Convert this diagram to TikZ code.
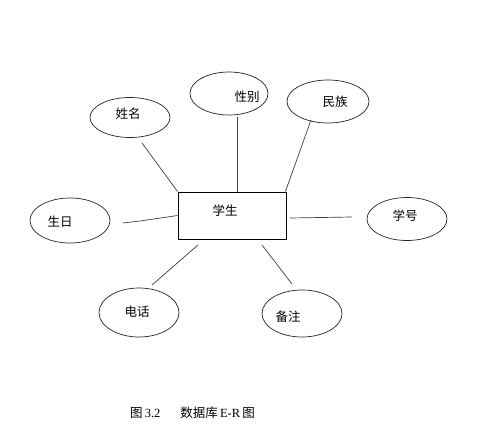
\documentclass[tikz,border=0pt]{standalone}
\usepackage{fontspec}
\setmainfont{Liberation Serif}
\newfontfamily\cjk{Noto Sans CJK SC}
\usetikzlibrary{shapes.geometric}
\begin{document}
\begin{tikzpicture}[x=1pt,y=-1pt,
  attr/.style={draw=black!85, ellipse, line width=0.7pt, inner sep=0pt, minimum width=80pt, minimum height=42pt},
  ent/.style={draw=black, line width=0.8pt, inner sep=0pt, minimum width=108pt, minimum height=47pt},
  lbl/.style={font=\cjk\fontsize{12.5}{14}\selectfont, inner sep=0pt},
  conn/.style={draw=black!75, line width=0.7pt}]
\useasboundingbox[fill=white] (0,0) rectangle (479,428);
% entity
\node[ent] (stu) at (232,215.5) {};
\node[lbl] (stut) at (225,211) {学生};
% attributes
\node[attr, minimum height=40pt] (xm) at (130,117.5) {};
\node[lbl] (xmt) at (128,114) {姓名};
\node[attr, minimum width=78pt, minimum height=43pt] (xb) at (229,93.5) {};
\node[lbl] (xbt) at (247,97) {性别};
\node[attr, minimum width=82pt, minimum height=43pt] (mz) at (328,101.5) {};
\node[lbl] (mzt) at (335,102) {民族};
\node[attr, minimum height=45pt] (sr) at (70,220.5) {};
\node[lbl] (srt) at (60,222) {生日};
\node[attr, minimum height=43pt] (xh) at (407,219) {};
\node[lbl] (xht) at (405,216) {学号};
\node[attr, minimum height=49pt] (dh) at (139,312.5) {};
\node[lbl] (dht) at (137,312) {电话};
\node[attr, minimum height=47pt] (bz) at (302,313.5) {};
\node[lbl] (bzt) at (288,317) {备注};
% free ends of connectors
\coordinate (cxm) at (142,143);
\coordinate (cxb) at (237,117);
\coordinate (cmz) at (311,120);
\coordinate (csr) at (123,223);
\coordinate (cxh1) at (290,218);
\coordinate (cxh2) at (352,217);
\coordinate (cdh1) at (198,245);
\coordinate (cdh2) at (152,285);
\coordinate (cbz1) at (262,245);
\coordinate (cbz2) at (292,284);
% connectors
\draw[conn] (cxm) -- (stu.north west);
\draw[conn] (cxb) -- (cxb |- stu.north);
\draw[conn] (cmz) -- ([xshift=-1pt]stu.north east);
\draw[conn] (csr) -- (140,221) -- (stu.west);
\draw[conn] (cxh1) -- (cxh2);
\draw[conn] (cdh1) -- (cdh2);
\draw[conn] (cbz1) -- (cbz2);
% caption
\node[inner sep=0pt, font=\fontsize{12.5}{14}\selectfont] (cap) at (192.5,413) {{\cjk 图}\,3.2\hspace{20pt}{\cjk 数据库}\,E-R\,{\cjk 图}};
\end{tikzpicture}
\end{document}
